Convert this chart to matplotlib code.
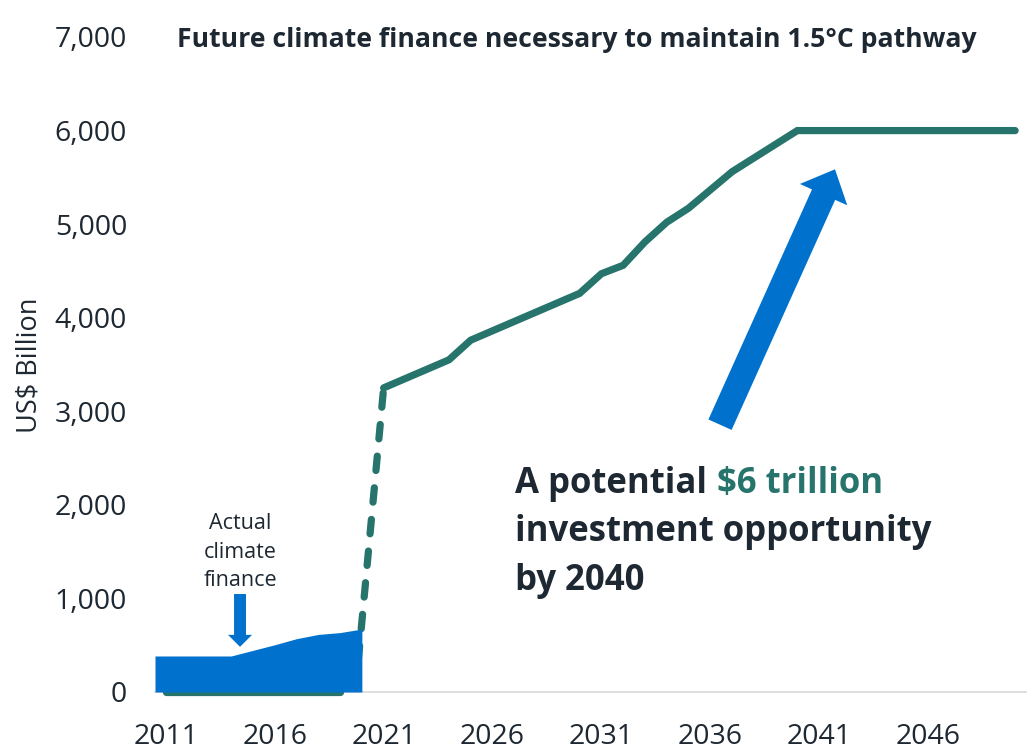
import matplotlib
matplotlib.use("Agg")
import matplotlib.pyplot as plt
import numpy as np

plt.rcParams['font.family'] = ['Open Sans', 'DejaVu Sans']

# ---------------- data ----------------
title = "Future climate finance necessary to maintain 1.5°C pathway"
ylabel = "US$ Billion"

# actual climate finance (blue area)
actual_years = [2011, 2012, 2013, 2014, 2015, 2016, 2017, 2018, 2019, 2020]
actual_values = [385, 385, 385, 385, 445, 505, 570, 615, 635, 673]

# historical zero line under the blue area
hist_years = [2011, 2019]
hist_values = [0, 0]

# dashed transition
trans_years = [2019.7, 2021]
trans_values = [0, 3250]

# 1.5°C pathway
path_years = [2021, 2024, 2025, 2030, 2031, 2032, 2033, 2034, 2035, 2037, 2040, 2050]
path_values = [3250, 3550, 3760, 4260, 4470, 4560, 4810, 5020, 5170, 5560, 6000, 6000]

xticks = [2011, 2016, 2021, 2026, 2031, 2036, 2041, 2046]
yticks = [0, 1000, 2000, 3000, 4000, 5000, 6000, 7000]

# ---------------- style ----------------
GREEN = "#26746c"
BLUE = "#0072ce"
DARK = "#1e2832"
AXIS = "#d9d9d9"

W, H = 1029, 750
fig = plt.figure(figsize=(W / 100, H / 100), dpi=100)
L, R, T, B = 155, 1026, 37, 692
ax = fig.add_axes([L / W, (H - B) / H, (R - L) / W, (B - T) / H])
ax.set_xlim(2010.5, 2050.5)
ax.set_ylim(0, 7000)

for s in ["left", "right", "top"]:
    ax.spines[s].set_visible(False)
ax.spines["bottom"].set_color(AXIS)
ax.spines["bottom"].set_linewidth(1.2)
ax.spines["bottom"].set_zorder(1)

ax.set_xticks(xticks)
ax.set_xticklabels([str(x) for x in xticks])
ax.set_yticks(yticks)
ax.set_yticklabels([f"{v:,}" for v in yticks])
ax.tick_params(axis="both", length=0, labelsize=20.5, labelcolor=DARK)
ax.tick_params(axis="y", pad=20)
ax.tick_params(axis="x", pad=22)

# lines
ax.plot(hist_years, hist_values, color=GREEN, lw=5.2, solid_capstyle="round",
        zorder=2, clip_on=False)
ax.plot(trans_years, trans_values, color=GREEN, lw=5.2, linestyle=(0, (2.0, 2.4)),
        dash_capstyle="round", zorder=2, clip_on=True)
ax.plot(path_years, path_values, color=GREEN, lw=5.2, solid_capstyle="round",
        solid_joinstyle="miter", zorder=2, clip_on=False)

# blue area
ax_x = [actual_years[0] - 0.5] + actual_years
ax_y = [actual_values[0]] + actual_values
ax.fill_between(ax_x, 0, ax_y, color=BLUE, lw=0, zorder=3)

# small down arrow
ax.annotate("", xy=(0.0976, 0.069), xytext=(0.0976, 0.1496),
            xycoords="axes fraction", textcoords="axes fraction",
            arrowprops=dict(arrowstyle="simple,head_length=8.6,head_width=17.3,tail_width=8.6",
                            mutation_scale=1, color=BLUE, lw=0, shrinkA=0, shrinkB=0),
            zorder=4)
fig.text(240 / W, 1 - 552 / H, "Actual\nclimate\nfinance", ha="center", va="center",
         fontsize=15.5, color=DARK, linespacing=1.45)

# big arrow
ax.annotate("", xy=(0.7807, 0.7980), xytext=(0.6487, 0.4081),
            xycoords="axes fraction", textcoords="axes fraction",
            arrowprops=dict(arrowstyle="simple,head_length=20,head_width=37.4,tail_width=18.3",
                            mutation_scale=1, color=BLUE, lw=0, shrinkA=0, shrinkB=0),
            zorder=4)

# big text
BIG = 25
t1 = fig.text(515 / W, 1 - 493 / H, "A potential", fontsize=BIG, fontweight="bold",
              color=DARK, ha="left", va="baseline")
fig.canvas.draw()
bb = t1.get_window_extent()
t2 = fig.text((bb.x1 + 10) / W, 1 - 493 / H, "\\$6 trillion", fontsize=BIG, fontweight="bold",
              color=GREEN, ha="left", va="baseline")
fig.text(515 / W, 1 - 541.5 / H, "investment opportunity", fontsize=BIG, fontweight="bold",
         color=DARK, ha="left", va="baseline")
fig.text(515 / W, 1 - 590 / H, "by 2040", fontsize=BIG, fontweight="bold",
         color=DARK, ha="left", va="baseline")

# title
fig.text(577 / W, 1 - 47 / H, title, fontsize=19.2, fontweight="bold", color=DARK,
         ha="center", va="baseline")

# y label
fig.text(29 / W, 1 - 365 / H, ylabel, rotation=90, fontsize=19.5, color=DARK,
         ha="center", va="center")

fig.savefig("out.png", dpi=100)
